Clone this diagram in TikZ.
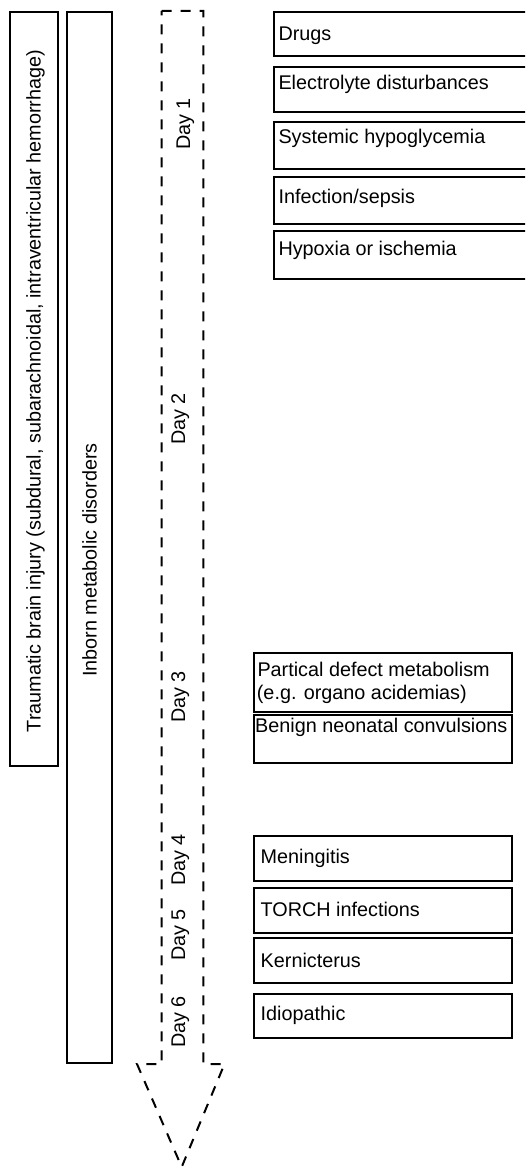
\documentclass[tikz,border=0pt]{standalone}
\usepackage{fontspec}
\setmainfont{Liberation Sans}
\begin{document}
\begin{tikzpicture}[x=1pt,y=-1pt,
  frame/.style={draw=black, line width=2pt, inner sep=0pt, anchor=north west},
  txt/.style={font=\fontsize{19.8}{23}\selectfont, inner sep=0pt},
  boxtxt/.style={txt, anchor=base west},
  daytxt/.style={txt, rotate=90, anchor=base},
  timeline/.style={draw=black, line width=2pt, dash pattern=on 10pt off 9pt, line join=miter},
]
\useasboundingbox (0,0) rectangle (525,1169);
\fill[white] (0,0) rectangle (525,1169);
\clip (0,0) rectangle (525,1169);

% long vertical bars on the left
\node[frame, minimum width=48pt, minimum height=754pt] (tbi) at (8.5,11) {};
\node[txt, rotate=90, anchor=base] (tbitext) at (40.5,391)
  {Traumatic brain injury (subdural, subarachnoidal, intraventricular hemorrhage)};
\node[frame, minimum width=45pt, minimum height=1051pt] (iem) at (66,11) {};
\node[txt, rotate=90, anchor=base] (iemtext) at (96.5,560) {Inborn metabolic disorders};

% dashed time arrow
\path[timeline] (161.7,11) -- (203.3,11) -- (203.3,1064) -- (224.5,1064)
  -- (181.7,1167) -- (137,1064) -- (161.7,1064) -- cycle;

% day labels along the arrow
\node[daytxt] (d1) at (190,124) {Day 1};
\node[daytxt] (d2) at (185,419) {Day 2};
\node[daytxt] (d3) at (185,697) {Day 3};
\node[daytxt] (d4) at (185,860) {Day 4};
\node[daytxt] (d5) at (185,935) {Day 5};
\node[daytxt] (d6) at (185,1022) {Day 6};

% causes of the first days
\node[frame, minimum width=257pt, minimum height=44pt] (drugs) at (273,11) {};
\node[boxtxt] (drugst) at (278.3,40.5) {Drugs};
\node[frame, minimum width=257pt, minimum height=45pt] (elec) at (273,66) {};
\node[boxtxt] (elect) at (278.3,89.3) {Electrolyte disturbances};
\node[frame, minimum width=257pt, minimum height=47pt] (hypog) at (273,121) {};
\node[boxtxt] (hypogt) at (278.3,144) {Systemic hypoglycemia};
\node[frame, minimum width=257pt, minimum height=47pt] (sepsis) at (273,176) {};
\node[boxtxt] (sepsist) at (278.3,204) {Infection/sepsis};
\node[frame, minimum width=257pt, minimum height=48pt] (hypox) at (273,230) {};
\node[boxtxt] (hypoxt) at (278.3,255) {Hypoxia or ischemia};

% causes around day 3
\node[frame, minimum width=258pt, minimum height=59pt] (defect) at (253,652) {};
\node[boxtxt] (defectt1) at (257.3,676) {Partical defect metabolism};
\node[boxtxt] (defectt2) at (256.7,699.5) {(e.g. organo acidemias)};
\node[frame, minimum width=258pt, minimum height=48pt] (benign) at (253,714) {};
\node[boxtxt] (benignt) at (255,732) {Benign neonatal convulsions};

% later causes
\node[frame, minimum width=258pt, minimum height=45pt] (mening) at (253,835) {};
\node[boxtxt] (meningt) at (260.5,863.3) {Meningitis};
\node[frame, minimum width=258pt, minimum height=45pt] (torch) at (253,887) {};
\node[boxtxt] (torcht) at (260.5,916) {TORCH infections};
\node[frame, minimum width=258pt, minimum height=45pt] (kern) at (253,937) {};
\node[boxtxt] (kernt) at (260.5,967.3) {Kernicterus};
\node[frame, minimum width=258pt, minimum height=44pt] (idio) at (253,993) {};
\node[boxtxt] (idiot) at (260.5,1020.5) {Idiopathic};
\end{tikzpicture}
\end{document}
